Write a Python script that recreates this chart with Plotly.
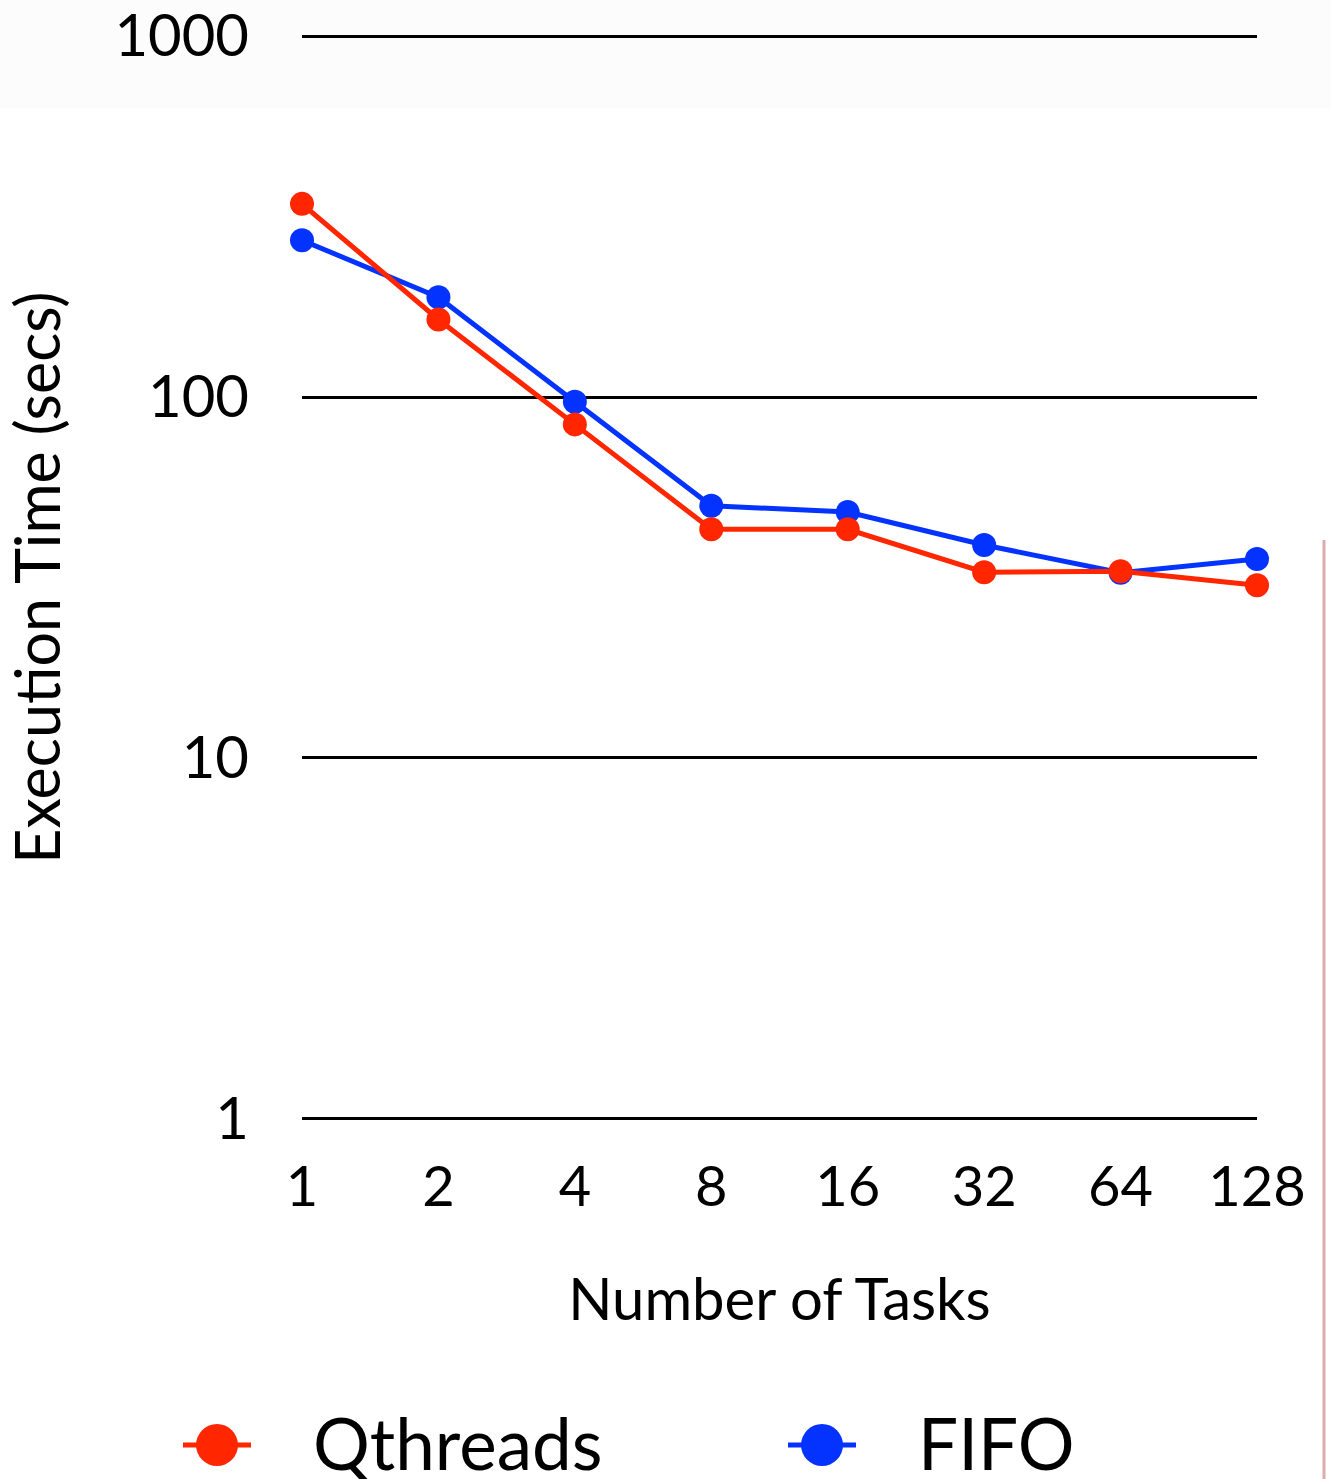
import plotly.graph_objects as go

# Number of tasks (categories on the x axis)
tasks = ["1", "2", "4", "8", "16", "32", "64", "128"]

# Execution time in seconds
qthreads_secs = [343, 164, 84, 43, 43, 32.7, 32.9, 30.1]
fifo_secs = [272, 189, 97, 50, 48, 38.9, 32.6, 35.6]

y_tick_vals = [1, 10, 100, 1000]
y_tick_text = ["1", "10", "100", "1000"]

RED = "#FF2600"
BLUE = "#0433FF"
FONT = "Lato, 'Open Sans', sans-serif"

W, H = 1331, 1479
L, R, T, B = 302, 74, 34, 358
plot_w = W - L - R
plot_h = H - T - B


def px_x(px):
    """Page pixel column -> paper x."""
    return (px - L) / plot_w


def px_y(py):
    """Page pixel row -> paper y."""
    return (H - B - py) / plot_h


xpos = list(range(len(tasks)))

series = [
    ("FIFO", fifo_secs, BLUE),
    ("Qthreads", qthreads_secs, RED),
]

fig = go.Figure()
for name, vals, color in series:
    fig.add_trace(go.Scatter(
        x=xpos, y=vals, name=name, mode="lines+markers",
        line=dict(color=color, width=5),
        marker=dict(color=color, size=24),
        cliponaxis=False, showlegend=False,
    ))

shapes = []
annotations = []

# faint band across the top of the page
shapes.append(dict(type="rect", xref="paper", yref="paper",
                   x0=px_x(0), x1=px_x(W), y0=px_y(108), y1=px_y(0),
                   fillcolor="#fcfcfd", line_width=0, layer="below"))
# thin rule along the right edge
shapes.append(dict(type="line", xref="paper", yref="paper",
                   x0=px_x(1324), x1=px_x(1324), y0=px_y(540), y1=px_y(H),
                   line=dict(color="rgba(190,90,90,0.5)", width=3)))

# legend row below the x axis title
legend_items = [("Qthreads", RED, 217), ("FIFO", BLUE, 822)]
legend_y = 1445
for name, color, cx in legend_items:
    shapes.append(dict(type="line", xref="paper", yref="paper",
                       x0=px_x(cx - 34), x1=px_x(cx + 34),
                       y0=px_y(legend_y), y1=px_y(legend_y),
                       line=dict(color=color, width=5)))
    shapes.append(dict(type="circle", xref="paper", yref="paper",
                       xsizemode="pixel", ysizemode="pixel",
                       xanchor=px_x(cx), yanchor=px_y(legend_y),
                       x0=-21, x1=21, y0=-21, y1=21,
                       fillcolor=color, line_width=0))
    annotations.append(dict(text=name, xref="paper", yref="paper",
                            x=px_x(cx + 94), y=px_y(legend_y - 3),
                            xanchor="left", yanchor="middle", showarrow=False,
                            font=dict(size=71, family=FONT, color="black")))

fig.update_layout(
    width=W, height=H,
    margin=dict(l=L, r=R, t=T, b=B, pad=0),
    paper_bgcolor="white", plot_bgcolor="white",
    font=dict(family=FONT, color="black", size=58),
    showlegend=False,
    shapes=shapes,
    annotations=annotations,
    xaxis=dict(
        range=[0, len(tasks) - 1], tickmode="array", tickvals=xpos, ticktext=tasks,
        showgrid=False, zeroline=False, showline=False, ticks="",
        tickfont=dict(size=56), ticklabelstandoff=28, automargin=False,
        ticklabeloverflow="allow",
        title=dict(text="Number of Tasks", font=dict(size=58), standoff=62),
    ),
    yaxis=dict(
        type="log", range=[-0.006, 3.006], tickmode="array",
        tickvals=y_tick_vals, ticktext=y_tick_text,
        showgrid=True, gridcolor="black", gridwidth=2.5,
        zeroline=False, showline=False, ticks="",
        tickfont=dict(size=58), ticklabelstandoff=52, automargin=False,
        ticklabeloverflow="allow",
        title=dict(text="Execution Time (secs)", font=dict(size=61), standoff=55),
    ),
)

fig.write_html("out.html")
